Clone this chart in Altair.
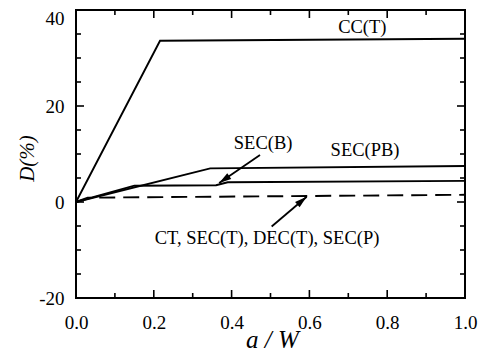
import math
import altair as alt
import pandas as pd

# ---- series ----
cc_x = [0.0, 0.216, 1.0]
cc_y = [0.0, 33.6, 34.0]
pb_x = [0.0, 0.345, 1.0]
pb_y = [0.0, 7.0, 7.5]
b_x = [0.0, 0.15, 0.36, 0.39, 1.0]
b_y = [0.0, 3.4, 3.5, 4.1, 4.4]
ct_x = [0.0, 0.03, 1.0]
ct_y = [0.0, 0.9, 1.5]

# ---- annotations ----
label_text = ["CC(T)", "SEC(B)", "SEC(PB)", "CT, SEC(T), DEC(T), SEC(P)"]
label_x = [0.736, 0.481, 0.743, 0.491]
label_y = [36.4, 12.2, 10.8, -7.6]

arrow_x0 = [0.473, 0.503]
arrow_y0 = [9.8, -5.1]
arrow_x1 = [0.368, 0.593]
arrow_y1 = [3.96, 1.1]

# ---- axis ticks ----
x_major = [0.0, 0.2, 0.4, 0.6, 0.8, 1.0]
x_minor = [0.1, 0.3, 0.5, 0.7, 0.9]
y_major = [-20, 0, 20, 40]
y_minor = [-15, -10, -5, 5, 10, 15, 25, 30, 35]

W, H = 389, 288
FONT = "Liberation Serif"

xs = alt.Scale(domain=[0, 1], nice=False, zero=False)
ys = alt.Scale(domain=[-20, 40], nice=False, zero=False)

rows = []
for name, xx, yy in [("CC(T)", cc_x, cc_y), ("SEC(PB)", pb_x, pb_y), ("SEC(B)", b_x, b_y)]:
    for i, (a, d) in enumerate(zip(xx, yy)):
        rows.append({"series": name, "x": a, "y": d, "o": i})
solid = pd.DataFrame(rows)
dashed = pd.DataFrame({"x": ct_x, "y": ct_y, "o": list(range(len(ct_x)))})

xaxis = alt.Axis(values=x_major, format=".1f", ticks=False, domain=False, grid=False,
                 labelFlush=False, labelFont=FONT, labelFontSize=19, labelColor="black",
                 labelPadding=15,
                 title="a / W", titleFont=FONT, titleFontSize=25, titleFontStyle="italic",
                 titleFontWeight="normal", titleColor="black", titleX=196, titleY=49,
                 titleBaseline="alphabetic")
yaxis = alt.Axis(values=y_major, labelExpr="datum.value + ''", ticks=False, domain=False,
                 grid=False, labelFlush=False,
                 labelFont=FONT, labelFontSize=19, labelColor="black", labelPadding=12,
                 labelOffset={"condition": {"test": "datum.value == 40", "value": 8}, "value": 0},
                 title="D(%)", titleFont=FONT, titleFontSize=21, titleFontStyle="italic",
                 titleFontWeight="normal", titleColor="black", titleX=-49, titleY=148,
                 titleAngle=270, titleBaseline="middle", titleAlign="center")

lines = alt.Chart(solid).mark_line(color="black", strokeWidth=1.9).encode(
    x=alt.X("x:Q", scale=xs, axis=xaxis),
    y=alt.Y("y:Q", scale=ys, axis=yaxis),
    detail="series:N",
    order="o:Q",
)
dash = alt.Chart(dashed).mark_line(color="black", strokeWidth=1.9, strokeDash=[16, 8]).encode(
    x=alt.X("x:Q", scale=xs), y=alt.Y("y:Q", scale=ys), order="o:Q")

labels = alt.Chart(pd.DataFrame({"t": label_text, "x": label_x, "y": label_y})).mark_text(
    font=FONT, fontSize=18.5, color="black", align="center", baseline="middle").encode(
    x=alt.X("x:Q", scale=xs), y=alt.Y("y:Q", scale=ys), text="t:N")

HEAD_R = 7
arr = pd.DataFrame({"x0": arrow_x0, "y0": arrow_y0, "x1": arrow_x1, "y1": arrow_y1})
angles, hx, hy = [], [], []
for a0, b0, a1, b1 in zip(arrow_x0, arrow_y0, arrow_x1, arrow_y1):
    dx = (a1 - a0) * W
    dy = -(b1 - b0) * H / 60.0
    angles.append(math.degrees(math.atan2(dx, -dy)) % 360)
    L = math.hypot(dx, dy)
    f = HEAD_R / L
    hx.append(a1 - (a1 - a0) * f)
    hy.append(b1 - (b1 - b0) * f)
arr["ang"] = angles
arr["hx"] = hx
arr["hy"] = hy

shafts = alt.Chart(arr).mark_rule(color="black", strokeWidth=1.8).encode(
    x=alt.X("x0:Q", scale=xs), y=alt.Y("y0:Q", scale=ys), x2="x1:Q", y2="y1:Q")
heads = alt.Chart(arr).mark_point(shape="M0,-1L0.5,0.75L-0.5,0.75Z", filled=True, color="black",
                                  opacity=1, size=(2 * HEAD_R) ** 2).encode(
    x=alt.X("hx:Q", scale=xs), y=alt.Y("hy:Q", scale=ys), angle=alt.Angle("ang:Q", scale=None))

MAJ, MIN = 8, 5
def xticks(vals, ln):
    d = pd.DataFrame({"v": vals})
    bot = alt.Chart(d).mark_rule(color="black", strokeWidth=1.6).encode(
        x=alt.X("v:Q", scale=xs), y=alt.value(H), y2=alt.value(H - ln))
    top = alt.Chart(d).mark_rule(color="black", strokeWidth=1.6).encode(
        x=alt.X("v:Q", scale=xs), y=alt.value(0), y2=alt.value(ln))
    return [bot, top]
def yticks(vals, ln):
    d = pd.DataFrame({"v": vals})
    lft = alt.Chart(d).mark_rule(color="black", strokeWidth=1.6).encode(
        y=alt.Y("v:Q", scale=ys), x=alt.value(0), x2=alt.value(ln))
    rgt = alt.Chart(d).mark_rule(color="black", strokeWidth=1.6).encode(
        y=alt.Y("v:Q", scale=ys), x=alt.value(W), x2=alt.value(W - ln))
    return [lft, rgt]

tick_layers = xticks(x_major, MAJ) + xticks(x_minor, MIN) + yticks(y_major, MAJ) + yticks(y_minor, MIN)

chart = alt.layer(lines, dash, shafts, heads, labels, *tick_layers).properties(
    width=W, height=H,
    autosize=alt.AutoSizeParams(type="none"),
    padding={"left": 68, "top": 2, "right": 13, "bottom": 54},
    background="white",
).configure_view(stroke="black", strokeWidth=2)

chart.save("out.html", embed_options={"renderer": "svg", "actions": False})
